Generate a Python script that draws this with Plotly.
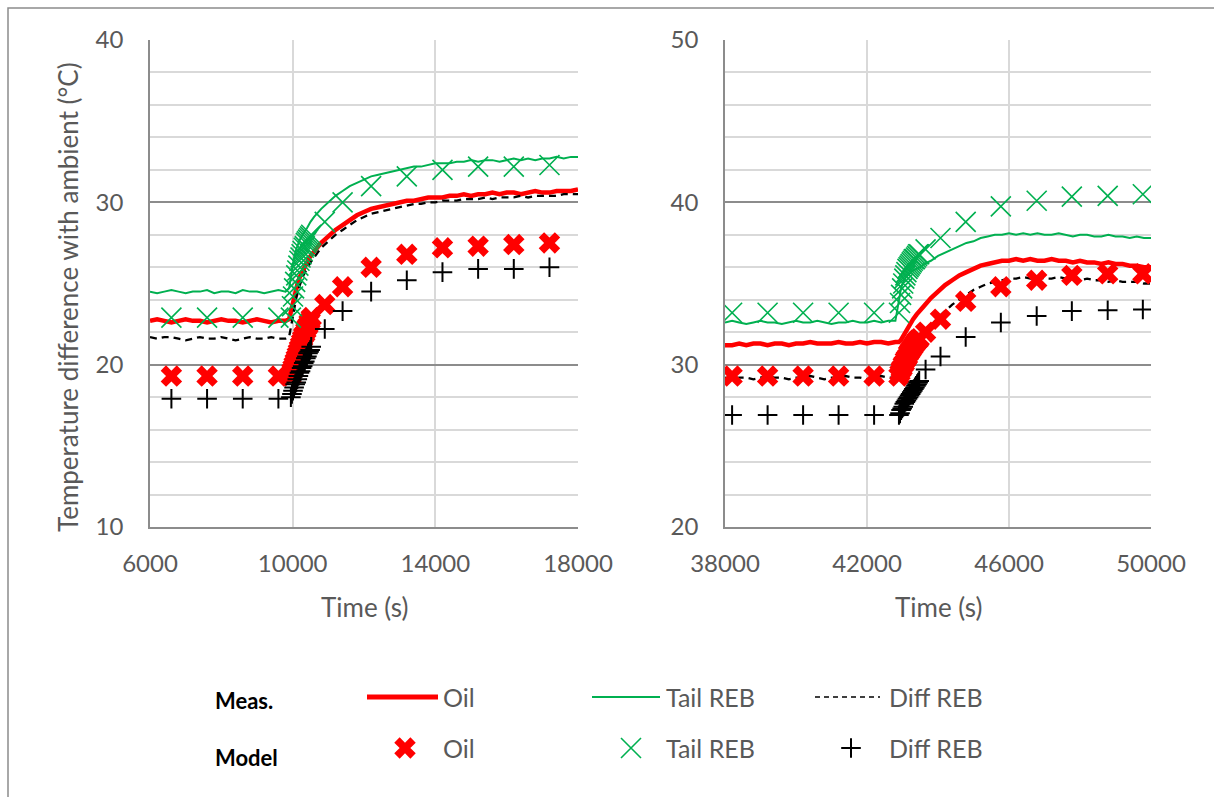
import plotly.graph_objects as go

W, H = 1214, 797

# ---------------- measured data, first window (time in s, temperature rise in °C) ----------------
t_meas_left = (list(range(6000, 9801, 200))
               + [9900, 9950, 10000, 10050, 10100, 10150, 10200, 10300, 10400, 10500]
               + list(range(10600, 18001, 200)))

oil_meas_left = [22.7, 22.8, 22.7, 22.6, 22.7, 22.8, 22.7, 22.7, 22.6, 22.7,
                 22.8, 22.7, 22.7, 22.6, 22.7, 22.8, 22.7, 22.6, 22.7, 22.7,
                 22.8, 23.3, 23.8, 24.3, 24.7, 25.1, 25.4, 25.9, 26.3, 26.7,
                 27.0, 27.5, 27.9, 28.3, 28.6, 28.9, 29.2, 29.4, 29.6, 29.7,
                 29.8, 29.9, 30.0, 30.1, 30.1, 30.2, 30.3, 30.3, 30.3, 30.4,
                 30.4, 30.5, 30.4, 30.5, 30.5, 30.6, 30.5, 30.6, 30.6, 30.5,
                 30.6, 30.7, 30.6, 30.6, 30.7, 30.7, 30.7, 30.8]

tail_meas_left = [24.5, 24.4, 24.5, 24.6, 24.5, 24.4, 24.5, 24.5, 24.6, 24.4,
                  24.5, 24.5, 24.4, 24.6, 24.5, 24.5, 24.4, 24.5, 24.6, 24.5,
                  24.7, 25.4, 26.1, 26.7, 27.1, 27.4, 27.7, 28.1, 28.4, 28.8,
                  29.1, 29.6, 30.0, 30.4, 30.7, 31.0, 31.2, 31.4, 31.6, 31.7,
                  31.8, 31.9, 32.0, 32.1, 32.2, 32.2, 32.3, 32.4, 32.4, 32.4,
                  32.5, 32.5, 32.6, 32.5, 32.6, 32.6, 32.5, 32.6, 32.7, 32.6,
                  32.7, 32.6, 32.7, 32.7, 32.8, 32.7, 32.8, 32.8]

diff_meas_left = [21.7, 21.6, 21.7, 21.7, 21.6, 21.5, 21.6, 21.7, 21.6, 21.6,
                  21.7, 21.6, 21.5, 21.6, 21.7, 21.6, 21.6, 21.7, 21.6, 21.6,
                  21.7, 22.3, 23.0, 23.6, 24.1, 24.5, 24.9, 25.5, 25.9, 26.3,
                  26.6, 27.2, 27.6, 28.0, 28.3, 28.6, 28.9, 29.1, 29.3, 29.4,
                  29.5, 29.6, 29.7, 29.8, 29.9, 29.9, 30.0, 30.0, 30.1, 30.1,
                  30.1, 30.2, 30.2, 30.2, 30.3, 30.2, 30.3, 30.3, 30.3, 30.4,
                  30.3, 30.4, 30.4, 30.4, 30.4, 30.5, 30.5, 30.5]

# ---------------- model results, first window ----------------
t_model_left = [6600, 7600, 8600, 9600,
                9950, 9980, 10010, 10040, 10070, 10100, 10130, 10160, 10190, 10220,
                10250, 10280, 10310, 10340, 10370, 10400, 10430, 10460, 10490, 10520,
                10900, 11400, 12200, 13200, 14200, 15200, 16200, 17200]

oil_model_left = [19.3, 19.3, 19.3, 19.3,
                  19.3, 19.6, 19.8, 20.0, 20.2, 20.4, 20.6, 20.8, 21.0, 21.2,
                  21.4, 21.6, 21.8, 21.9, 22.1, 22.3, 22.4, 22.6, 22.7, 22.9,
                  23.7, 24.8, 26.0, 26.8, 27.2, 27.3, 27.4, 27.5]

tail_model_left = [22.9, 22.9, 22.9, 22.9,
                   22.9, 23.6, 24.2, 24.7, 25.1, 25.5, 25.8, 26.1, 26.4, 26.6,
                   26.8, 27.0, 27.2, 27.3, 27.5, 27.6, 27.7, 27.8, 27.9, 28.0,
                   28.8, 30.0, 31.0, 31.6, 32.0, 32.2, 32.2, 32.3]

diff_model_left = [17.9, 17.9, 17.9, 17.9,
                   18.0, 18.2, 18.4, 18.6, 18.8, 18.9, 19.1, 19.3, 19.5, 19.6,
                   19.8, 19.9, 20.1, 20.2, 20.4, 20.5, 20.7, 20.8, 20.9, 21.1,
                   22.2, 23.3, 24.5, 25.2, 25.7, 25.9, 25.9, 26.0]

# ---------------- measured data, second window ----------------
t_meas_right = (list(range(38000, 42801, 200))
                + [42850, 42900, 42950, 43000, 43100, 43200, 43300, 43400, 43500, 43600]
                + list(range(43800, 50001, 200)))

oil_meas_right = [31.2, 31.2, 31.3, 31.2, 31.3, 31.3, 31.2, 31.3, 31.3, 31.2,
                  31.3, 31.3, 31.4, 31.3, 31.3, 31.3, 31.4, 31.3, 31.3, 31.4,
                  31.3, 31.4, 31.4, 31.3, 31.4,
                  31.4, 31.4, 31.5, 31.7, 32.1, 32.5, 32.8, 33.1, 33.4, 33.6,
                  34.1, 34.5, 34.9, 35.2, 35.5, 35.7, 35.9, 36.1, 36.2, 36.3,
                  36.4, 36.4, 36.5, 36.4, 36.5, 36.4, 36.4, 36.5, 36.4, 36.4,
                  36.3, 36.4, 36.3, 36.3, 36.2, 36.3, 36.2, 36.2, 36.1, 36.1,
                  36.0, 36.0]

tail_meas_right = [32.6, 32.7, 32.6, 32.5, 32.6, 32.7, 32.6, 32.6, 32.5, 32.6,
                   32.7, 32.6, 32.6, 32.7, 32.6, 32.5, 32.6, 32.6, 32.7, 32.6,
                   32.6, 32.7, 32.6, 32.7, 32.7,
                   33.4, 34.1, 34.6, 35.0, 35.4, 35.6, 35.8, 35.9, 36.0, 36.2,
                   36.4, 36.7, 36.9, 37.1, 37.3, 37.5, 37.6, 37.8, 37.9, 38.0,
                   38.0, 38.1, 38.0, 38.1, 38.0, 38.1, 38.0, 38.0, 38.1, 38.0,
                   37.9, 38.0, 38.0, 37.9, 37.9, 38.0, 37.9, 37.9, 37.8, 37.9,
                   37.8, 37.8]

diff_meas_right = [29.2, 29.1, 29.2, 29.2, 29.1, 29.2, 29.3, 29.2, 29.2, 29.1,
                   29.2, 29.2, 29.3, 29.2, 29.1, 29.2, 29.2, 29.3, 29.2, 29.2,
                   29.1, 29.2, 29.3, 29.2, 29.2,
                   29.2, 29.2, 29.4, 29.6, 30.0, 30.4, 30.8, 31.2, 31.5, 31.8,
                   32.4, 32.9, 33.3, 33.7, 34.0, 34.3, 34.6, 34.8, 35.0, 35.1,
                   35.2, 35.3, 35.3, 35.4, 35.3, 35.4, 35.3, 35.3, 35.4, 35.3,
                   35.3, 35.2, 35.3, 35.2, 35.2, 35.1, 35.2, 35.1, 35.1, 35.1,
                   35.0, 35.0]

# ---------------- model results, second window ----------------
t_model_right = [38200, 39200, 40200, 41200, 42200,
                 42900, 42930, 42960, 42990, 43020, 43050, 43080, 43110, 43140, 43170,
                 43200, 43230, 43260, 43290, 43320, 43350, 43380, 43410, 43440, 43470,
                 43650, 44070, 44780, 45770, 46780, 47770, 48780, 49770]

oil_model_right = [29.3, 29.3, 29.3, 29.3, 29.3,
                   29.3, 29.5, 29.7, 29.8, 30.0, 30.1, 30.3, 30.4, 30.5, 30.7,
                   30.8, 30.9, 31.0, 31.1, 31.2, 31.3, 31.4, 31.5, 31.5, 31.6,
                   32.0, 32.8, 33.9, 34.8, 35.2, 35.5, 35.6, 35.6]

tail_model_right = [33.2, 33.2, 33.2, 33.2, 33.2,
                    33.2, 33.8, 34.3, 34.7, 35.0, 35.3, 35.5, 35.7, 35.9, 36.0,
                    36.1, 36.2, 36.3, 36.4, 36.5, 36.5, 36.6, 36.7, 36.8, 36.8,
                    37.1, 37.8, 38.8, 39.75, 40.1, 40.35, 40.4, 40.5]

diff_model_right = [26.9, 26.9, 26.9, 26.9, 26.9,
                    26.9, 27.0, 27.2, 27.3, 27.4, 27.6, 27.7, 27.8, 27.9, 28.0,
                    28.1, 28.2, 28.3, 28.4, 28.5, 28.6, 28.7, 28.8, 28.9, 29.0,
                    29.7, 30.5, 31.7, 32.6, 33.0, 33.3, 33.35, 33.4]

# ---------------- styling ----------------
RED = "#ff0000"
GREEN = "#00b050"
BLACK = "#000000"
TXT = "#595959"
FONT = "Lato"
GRID_LIGHT = "#d9d9d9"
GRID_DARK = "#8c8c8c"

oil_line = dict(color=RED, width=4.5)
tail_line = dict(color=GREEN, width=2)
diff_line = dict(color=BLACK, width=2.3, dash="7px,5px")
oil_marker = dict(symbol="x", size=19, color=RED, line=dict(width=0))
tail_marker = dict(symbol="x-thin", size=20, color=GREEN, line=dict(color=GREEN, width=1.6))
diff_marker = dict(symbol="cross-thin", size=14, color=BLACK, line=dict(color=BLACK, width=2))

fig = go.Figure()

panels = [
    ("x", "y", t_meas_left, oil_meas_left, tail_meas_left, diff_meas_left,
     t_model_left, oil_model_left, tail_model_left, diff_model_left),
    ("x2", "y2", t_meas_right, oil_meas_right, tail_meas_right, diff_meas_right,
     t_model_right, oil_model_right, tail_model_right, diff_model_right),
]

for xa, ya, tm, om, tam, dm, tmod, omod, tamod, dmod in panels:
    fig.add_trace(go.Scatter(x=tm, y=om, mode="lines", line=oil_line, xaxis=xa, yaxis=ya))
    fig.add_trace(go.Scatter(x=tm, y=tam, mode="lines", line=tail_line, xaxis=xa, yaxis=ya))
    fig.add_trace(go.Scatter(x=tm, y=dm, mode="lines", line=diff_line, xaxis=xa, yaxis=ya))
    fig.add_trace(go.Scatter(x=tmod, y=omod, mode="markers", marker=oil_marker, xaxis=xa, yaxis=ya))
    fig.add_trace(go.Scatter(x=tmod, y=tamod, mode="markers", marker=tail_marker, xaxis=xa, yaxis=ya))
    fig.add_trace(go.Scatter(x=tmod, y=dmod, mode="markers", marker=diff_marker, xaxis=xa, yaxis=ya))

# Legend block drawn on an overlay axis measured in pixels
LEG_ROW1, LEG_ROW2 = 697, 748
fig.add_trace(go.Scatter(x=[367, 438], y=[LEG_ROW1, LEG_ROW1], mode="lines",
                         line=dict(color=RED, width=5), xaxis="x3", yaxis="y3"))
fig.add_trace(go.Scatter(x=[592, 660], y=[LEG_ROW1, LEG_ROW1], mode="lines",
                         line=tail_line, xaxis="x3", yaxis="y3"))
fig.add_trace(go.Scatter(x=[815, 880], y=[LEG_ROW1, LEG_ROW1], mode="lines",
                         line=dict(color=BLACK, width=1.5, dash="5px,4px"), xaxis="x3", yaxis="y3"))
fig.add_trace(go.Scatter(x=[405], y=[LEG_ROW2], mode="markers", marker=oil_marker, xaxis="x3", yaxis="y3"))
fig.add_trace(go.Scatter(x=[631], y=[LEG_ROW2], mode="markers", marker=tail_marker, xaxis="x3", yaxis="y3"))
fig.add_trace(go.Scatter(x=[851], y=[LEG_ROW2], mode="markers", marker=diff_marker, xaxis="x3", yaxis="y3"))

tickfont = dict(family=FONT, size=24, color=TXT)


def xaxis(domain, rng, anchor):
    return dict(domain=domain, range=rng, tick0=rng[0], dtick=4000, tickformat="d", anchor=anchor,
                showgrid=True, gridcolor=GRID_LIGHT, gridwidth=1.5,
                showline=True, linecolor=GRID_DARK, linewidth=1.5,
                zeroline=False, ticks="", tickfont=tickfont, ticklabelstandoff=14,
                fixedrange=True)


def yaxis(domain, rng, anchor):
    return dict(domain=domain, range=rng, tick0=rng[0], dtick=10, anchor=anchor,
                showgrid=True, gridcolor=GRID_DARK, gridwidth=1.5,
                minor=dict(dtick=2, showgrid=True, gridcolor=GRID_LIGHT, gridwidth=1.5),
                showline=True, linecolor=GRID_DARK, linewidth=1.5,
                zeroline=False, ticks="", tickfont=tickfont, ticklabelstandoff=20,
                fixedrange=True)


y_dom = [1 - 527 / H, 1 - 40 / H]
fig.update_layout(
    width=W, height=H,
    margin=dict(l=0, r=0, t=0, b=0, autoexpand=False),
    paper_bgcolor="white", plot_bgcolor="rgba(0,0,0,0)",
    showlegend=False,
    xaxis=xaxis([150 / W, 578 / W], [6000, 18000], "y"),
    yaxis=yaxis(y_dom, [10, 40], "x"),
    xaxis2=xaxis([725 / W, 1151 / W], [38000, 50000], "y2"),
    yaxis2=yaxis(y_dom, [20, 50], "x2"),
    xaxis3=dict(domain=[0, 1], range=[0, W], visible=False, fixedrange=True, anchor="y3"),
    yaxis3=dict(domain=[0, 1], range=[H, 0], visible=False, fixedrange=True, anchor="x3"),
)

# Outer frame of the chart area
fig.add_shape(type="rect", xref="paper", yref="paper",
              x0=8 / W, y0=-0.05, x1=1.05, y1=1 - 8 / H,
              line=dict(color=GRID_DARK, width=1.5), fillcolor="rgba(0,0,0,0)")

ann = []
ann.append(dict(text="Temperature difference with ambient (°C)", x=68, y=297,
                xref="x3", yref="y3", textangle=-90, showarrow=False,
                font=dict(family=FONT, size=26, color=TXT)))
for cx in (364, 938):
    ann.append(dict(text="Time (s)", x=cx, y=607, xref="x3", yref="y3", showarrow=False,
                    font=dict(family=FONT, size=26, color=TXT)))
ann.append(dict(text="<b>Meas.</b>", x=213, y=700, xref="x3", yref="y3", xanchor="left",
                showarrow=False, font=dict(family=FONT, size=22, color=BLACK)))
ann.append(dict(text="<b>Model</b>", x=213, y=757, xref="x3", yref="y3", xanchor="left",
                showarrow=False, font=dict(family=FONT, size=22, color=BLACK)))
for row in (LEG_ROW1, LEG_ROW2):
    for lx, label in ((441, "Oil"), (664, "Tail REB"), (887, "Diff REB")):
        ann.append(dict(text=label, x=lx, y=row, xref="x3", yref="y3", xanchor="left",
                        showarrow=False, font=dict(family=FONT, size=25, color=TXT)))
fig.update_layout(annotations=ann)

fig.write_html("out.html")
